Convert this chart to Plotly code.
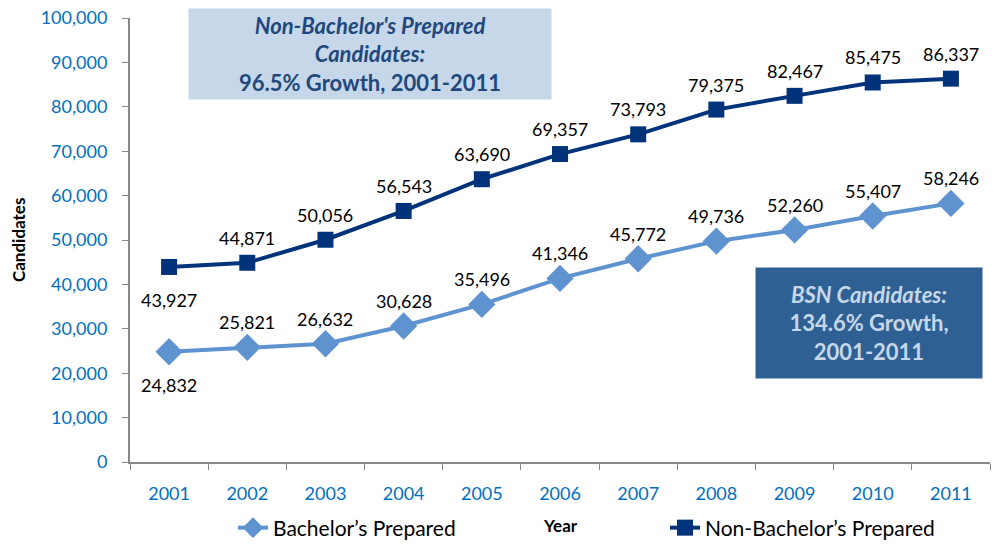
import plotly.graph_objects as go

years = ["2001", "2002", "2003", "2004", "2005", "2006", "2007", "2008", "2009", "2010", "2011"]
bachelor = [24832, 25821, 26632, 30628, 35496, 41346, 45772, 49736, 52260, 55407, 58246]
non_bachelor = [43927, 44871, 50056, 56543, 63690, 69357, 73793, 79375, 82467, 85475, 86337]
y_ticks = list(range(0, 100001, 10000))

FONT = "Lato, Carlito, 'Open Sans', sans-serif"
DARK = "#00337A"
LIGHT = "#5E93D0"
TICK_BLUE = "#0070C0"

# page body margin is removed below, so the figure fills the window
W, H = 1006, 546
ML, MR, MT, MB = 130, 16, 18, 84
PW, PH = W - ML - MR, H - MT - MB


def px(x):  # page pixel -> paper x
    return (x - ML) / PW


def py(y):  # page pixel -> paper y
    return (H - MB - y) / PH


fig = go.Figure()
fig.add_trace(go.Scatter(
    x=years, y=bachelor, mode="lines+markers", name="Bachelor\u2019s Prepared",
    line=dict(color=LIGHT, width=4), marker=dict(symbol="diamond", size=21, color=LIGHT),
    legend="legend"))
fig.add_trace(go.Scatter(
    x=years, y=non_bachelor, mode="lines+markers", name="Non-Bachelor\u2019s Prepared",
    line=dict(color=DARK, width=4), marker=dict(symbol="square", size=16, color=DARK),
    legend="legend2"))

annotations = []
for series in (bachelor, non_bachelor):
    for i, v in enumerate(series):
        annotations.append(dict(
            x=i, y=v, xref="x", yref="y", text=f"{v:,}", showarrow=False,
            yshift=(-33 if i == 0 else 25),
            font=dict(family=FONT, size=18, color="#000000")))

annotations.append(dict(
    xref="paper", yref="paper", x=px(370), y=py(54),
    xanchor="center", yanchor="middle",
    text="<b><i>Non-Bachelor's Prepared<br>Candidates:</i><br>96.5% Growth, 2001-2011</b>",
    showarrow=False, width=362, height=90, bgcolor="#C6D7EA", borderpad=0,
    font=dict(family=FONT, size=22, color="#1F497D")))
annotations.append(dict(
    xref="paper", yref="paper", x=px(869), y=py(323),
    xanchor="center", yanchor="middle",
    text="<b><i>BSN Candidates:</i><br>134.6% Growth,<br>2001-2011</b>",
    showarrow=False, width=226, height=110, bgcolor="#2E6094", borderpad=0,
    font=dict(family=FONT, size=22, color="#C6D7EA")))
# axis titles
annotations.append(dict(
    xref="paper", yref="paper", x=px(560), y=py(525), xanchor="center", yanchor="middle",
    text="<b>Year</b>", showarrow=False, font=dict(family=FONT, size=17, color="#000000")))
annotations.append(dict(
    xref="paper", yref="paper", x=px(18), y=py(240), xanchor="center", yanchor="middle",
    text="<b>Candidates</b>", textangle=-90, showarrow=False,
    font=dict(family=FONT, size=17, color="#000000")))

fig.update_layout(
    width=W, height=H,
    margin=dict(l=ML, r=MR, t=MT, b=MB, autoexpand=False),
    paper_bgcolor="white", plot_bgcolor="white",
    font=dict(family=FONT, size=17),
    annotations=annotations,
    showlegend=True,
    legend=dict(orientation="h", xref="container", yref="container",
                x=233 / W, y=1 - 528 / H, xanchor="left", yanchor="middle",
                font=dict(family=FONT, size=21, color="#000000"), bgcolor="rgba(0,0,0,0)"),
    legend2=dict(orientation="h", xref="container", yref="container",
                 x=665 / W, y=1 - 528 / H, xanchor="left", yanchor="middle",
                 font=dict(family=FONT, size=21, color="#000000"), bgcolor="rgba(0,0,0,0)"),
    xaxis=dict(
        type="category", range=[-0.5, 10.5], tickson="boundaries", ticks="outside", ticklen=6,
        tickcolor="#888888", showline=True, linecolor="#888888", linewidth=2,
        showgrid=False, tickangle=0, automargin=False, ticklabelstandoff=14,
        ticklabeloverflow="allow",
        tickfont=dict(family=FONT, size=18, color=TICK_BLUE)),
    yaxis=dict(
        range=[0, 100000], tickvals=y_ticks, ticktext=[f"{t:,}" for t in y_ticks],
        ticks="outside", ticklen=6, tickcolor="#888888", showline=True,
        linecolor="#888888", linewidth=2, showgrid=False, zeroline=False, automargin=False,
        ticklabeloverflow="allow",
        tickfont=dict(family=FONT, size=18, color=TICK_BLUE), ticklabelstandoff=11),
)

fig.write_html("out.html", config={"displayModeBar": False},
               post_script="document.body.style.margin='0';")
